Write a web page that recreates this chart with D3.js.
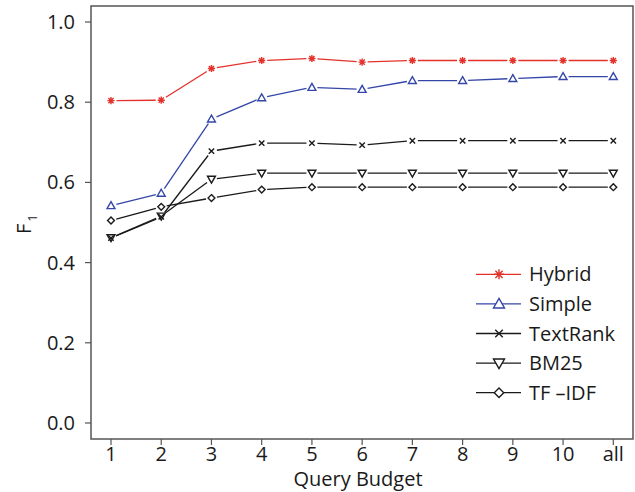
<!DOCTYPE html>
<html>
<head>
<meta charset="UTF-8">
<script src="https://cdn.jsdelivr.net/npm/d3@7"></script>
<style>
  body { margin: 0; background: #ffffff; }
  svg text { font-family: "Open Sans", "Noto Sans", sans-serif; fill: #1a1a1a; }
</style>
</head>
<body>
<svg id="chart" width="635" height="492"></svg>
<script>
// query budgets on the x axis
var budgets = ["1", "2", "3", "4", "5", "6", "7", "8", "9", "10", "all"];
var yTicks = [0.0, 0.2, 0.4, 0.6, 0.8, 1.0];

// F1 values per method
var hybrid   = [0.804, 0.805, 0.884, 0.904, 0.909, 0.900, 0.904, 0.904, 0.904, 0.904, 0.904];
var simple   = [0.542, 0.573, 0.758, 0.811, 0.837, 0.832, 0.854, 0.854, 0.859, 0.864, 0.864];
var textrank = [0.461, 0.514, 0.678, 0.698, 0.698, 0.693, 0.704, 0.704, 0.704, 0.704, 0.704];
var bm25     = [0.462, 0.516, 0.608, 0.623, 0.623, 0.623, 0.623, 0.623, 0.623, 0.623, 0.623];
var tfidf    = [0.505, 0.539, 0.561, 0.582, 0.588, 0.588, 0.588, 0.588, 0.588, 0.588, 0.588];

var series = [
  {name: "Hybrid",   values: hybrid,   color: "#e3312b", shape: "star"},
  {name: "Simple",   values: simple,   color: "#3446a8", shape: "tri"},
  {name: "TextRank", values: textrank, color: "#1a1a1a", shape: "cross"},
  {name: "BM25",     values: bm25,     color: "#1a1a1a", shape: "tridown"},
  {name: "TF \u2013IDF", values: tfidf, color: "#1a1a1a", shape: "diamond"}
];

var svg = d3.select("#chart");
var box = {left: 91, top: 6, right: 633, bottom: 439};
var fs = 20;

var x = d3.scalePoint().domain(budgets).range([111, 613.3]);
var y = d3.scaleLinear().domain([0, 1]).range([423, 22]);

// marker path, r = half size
function marker(shape, r) {
  var p = d3.path();
  if (shape == "star") {
    p.moveTo(-r, 0); p.lineTo(r, 0);
    p.moveTo(0, -r); p.lineTo(0, r);
    var d = r * 0.72;
    p.moveTo(-d, -d); p.lineTo(d, d);
    p.moveTo(-d, d); p.lineTo(d, -d);
  } else if (shape == "tri") {
    var h = r * 1.1;
    p.moveTo(0, -h); p.lineTo(h, h * 0.75); p.lineTo(-h, h * 0.75); p.closePath();
  } else if (shape == "tridown") {
    var h2 = r * 1.1;
    p.moveTo(0, h2); p.lineTo(h2, -h2 * 0.75); p.lineTo(-h2, -h2 * 0.75); p.closePath();
  } else if (shape == "cross") {
    var c = r * 0.75;
    p.moveTo(-c, -c); p.lineTo(c, c);
    p.moveTo(-c, c); p.lineTo(c, -c);
  } else if (shape == "diamond") {
    var e = r * 0.95;
    p.moveTo(0, -e); p.lineTo(e, 0); p.lineTo(0, e); p.lineTo(-e, 0); p.closePath();
  }
  return p.toString();
}

// box
svg.append("rect")
  .attr("x", box.left).attr("y", box.top)
  .attr("width", box.right - box.left).attr("height", box.bottom - box.top)
  .attr("fill", "none").attr("stroke", "#555").attr("stroke-width", 1.5);

// y axis
var yAxis = svg.append("g");
yTicks.forEach(function(t) {
  yAxis.append("line")
    .attr("x1", box.left - 6).attr("x2", box.left)
    .attr("y1", y(t)).attr("y2", y(t))
    .attr("stroke", "#555").attr("stroke-width", 1.2);
  yAxis.append("text")
    .attr("x", 75).attr("y", y(t) + 7)
    .attr("text-anchor", "end").attr("font-size", fs)
    .text(t.toFixed(1));
});

// x axis
var xAxis = svg.append("g");
budgets.forEach(function(b) {
  xAxis.append("line")
    .attr("x1", x(b)).attr("x2", x(b))
    .attr("y1", box.bottom).attr("y2", box.bottom + 6)
    .attr("stroke", "#555").attr("stroke-width", 1.2);
  xAxis.append("text")
    .attr("x", x(b)).attr("y", 461)
    .attr("text-anchor", "middle").attr("font-size", fs)
    .text(b);
});

svg.append("text")
  .attr("x", 358).attr("y", 486)
  .attr("text-anchor", "middle").attr("font-size", fs)
  .text("Query Budget");

// y label F1
var yl = svg.append("text")
  .attr("transform", "translate(31,234) rotate(-90)")
  .attr("font-size", fs);
yl.append("tspan").text("F");
yl.append("tspan").attr("dy", 6).attr("dx", 2).attr("font-size", 13).text("1");

// lines with gaps around points
var gap = 5.5;
series.forEach(function(s) {
  var g = svg.append("g");
  for (var i = 0; i < budgets.length - 1; i++) {
    var x1 = x(budgets[i]), y1 = y(s.values[i]);
    var x2 = x(budgets[i + 1]), y2 = y(s.values[i + 1]);
    var len = Math.sqrt((x2 - x1) * (x2 - x1) + (y2 - y1) * (y2 - y1));
    var ux = (x2 - x1) / len, uy = (y2 - y1) / len;
    g.append("line")
      .attr("x1", x1 + ux * gap).attr("y1", y1 + uy * gap)
      .attr("x2", x2 - ux * gap).attr("y2", y2 - uy * gap)
      .attr("stroke", s.color).attr("stroke-width", 1.3);
  }
  g.selectAll("path.pt").data(s.values).enter()
    .append("path")
    .attr("class", "pt")
    .attr("transform", function(d, i) { return "translate(" + x(budgets[i]) + "," + y(d) + ")"; })
    .attr("d", marker(s.shape, 3.6))
    .attr("fill", "none")
    .attr("stroke", s.color).attr("stroke-width", 1.4);
});

// legend
var legend = svg.append("g");
series.forEach(function(s, i) {
  var ly = 274.3 + i * 29.6;
  legend.append("line")
    .attr("x1", 476).attr("x2", 521).attr("y1", ly).attr("y2", ly)
    .attr("stroke", s.color).attr("stroke-width", 1.3);
  legend.append("path")
    .attr("transform", "translate(499," + ly + ")")
    .attr("d", marker(s.shape, 5))
    .attr("fill", s.shape == "star" ? "none" : "#fff")
    .attr("stroke", s.color).attr("stroke-width", 1.4);
  legend.append("text")
    .attr("x", 529).attr("y", ly + 7)
    .attr("font-size", fs)
    .text(s.name);
});
</script>
</body>
</html>
